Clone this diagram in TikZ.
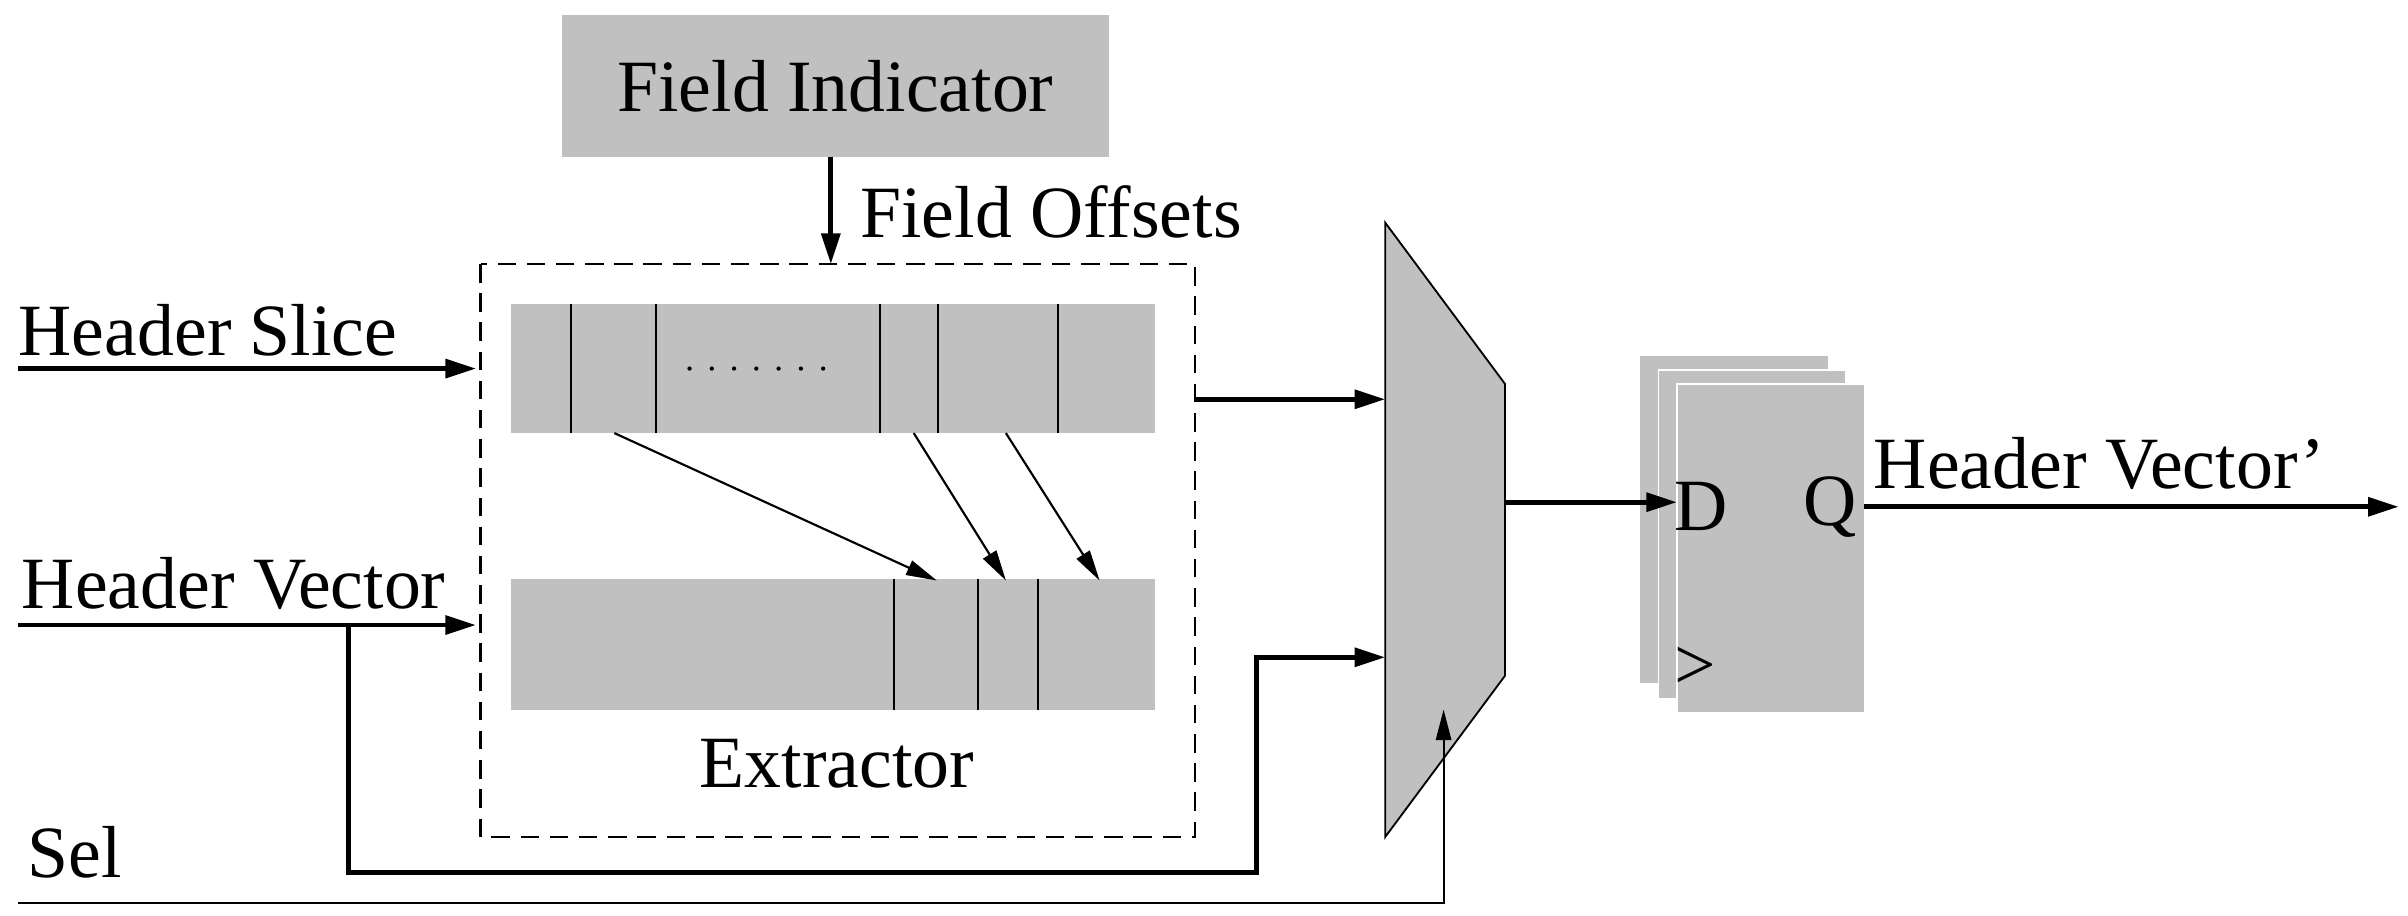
\documentclass[tikz,border=0pt]{standalone}
\usepackage{fontspec}
\setmainfont{Liberation Serif}
\usetikzlibrary{arrows.meta}
\definecolor{gb}{RGB}{192,192,192}
\begin{document}
\begin{tikzpicture}[x=1pt,y=-1pt,
 box/.style={fill=gb,draw=none},
 lbl/.style={font=\fontsize{48}{56}\selectfont,inner sep=0},
 thk/.style={line width=3.2pt,-{Triangle[length=20pt,width=12pt]}},
 thn/.style={line width=1.4pt,-{Triangle[length=20pt,width=10pt]}}]
\useasboundingbox (0,0) rectangle (1568,596);
\fill[gb] (366,10) rectangle (722,102);
\node[lbl] (fi) at (544,56) {Field Indicator};
\coordinate (fib) at (541,102);
\coordinate (dt) at (541,172);
\draw[thk] (fib) -- (dt);
\node[lbl,anchor=west] (fo) at (560,138) {Field Offsets};
\draw[dash pattern=on 12pt off 7pt,line width=1.6pt] (313,172) rectangle (778,545);
\fill[gb] (333,198) rectangle (752,282);
\foreach \x in {372,427,573,611,689} \draw[line width=1.4pt] (\x,198) -- (\x,282);
\foreach \i in {0,...,6} \fill (449+\i*14.5,240) circle (1.4pt);
\fill[gb] (333,377) rectangle (752,462);
\foreach \x in {582,637,676} \draw[line width=1.4pt] (\x,377) -- (\x,462);
\node[lbl] (ex) at (545,497) {Extractor};
\coordinate (a1) at (400,282); \coordinate (b1) at (610,378);
\coordinate (a2) at (595,282); \coordinate (b2) at (655,378);
\coordinate (a3) at (655,282); \coordinate (b3) at (716,378);
\draw[thn] (a1) -- (b1); \draw[thn] (a2) -- (b2); \draw[thn] (a3) -- (b3);
\node[lbl,anchor=west] (hs) at (12,215) {Header Slice};
\coordinate (hs0) at (12,240); \coordinate (hs1) at (310,240);
\draw[thk] (hs0) -- (hs1);
\node[lbl,anchor=west] (hv) at (14,380) {Header Vector};
\coordinate (hv0) at (12,407); \coordinate (hv1) at (310,407);
\draw[thk] (hv0) -- (hv1);
\coordinate (br) at (227,407); \coordinate (m2) at (902,428);
\draw[thk] (br) -- (227,568) -- (818,568) -- (818,428) -- (m2);
\coordinate (t0) at (778,260); \coordinate (m1) at (902,260);
\draw[thk] (t0) -- (m1);
\draw[fill=gb,line width=1.2pt] (902,145) -- (980,250) -- (980,440) -- (902,545) -- cycle;
\node[lbl,anchor=west] (sel) at (18,555) {Sel};
\coordinate (s0) at (12,588); \coordinate (ms) at (940,462);
\draw[thn] (s0) -- (940,588) -- (ms);
\fill[gb] (1068,232) rectangle (1190,445);
\fill[gb,draw=white,line width=1pt] (1080,241) rectangle (1202,455);
\fill[gb,draw=white,line width=1pt] (1092,250) rectangle (1214,464);
\coordinate (mo) at (980,327); \coordinate (ffd) at (1092,327);
\draw[thk] (mo) -- (ffd);
\node[lbl] (d) at (1108,330) {D};
\node[lbl] (q) at (1192,330) {Q};
\node[lbl] (clk) at (1104,435) {>};
\coordinate (o0) at (1214,330); \coordinate (o1) at (1562,330);
\draw[thk] (o0) -- (o1);
\node[lbl,anchor=west] (hvp) at (1220,302) {Header Vector’};
\end{tikzpicture}
\end{document}
